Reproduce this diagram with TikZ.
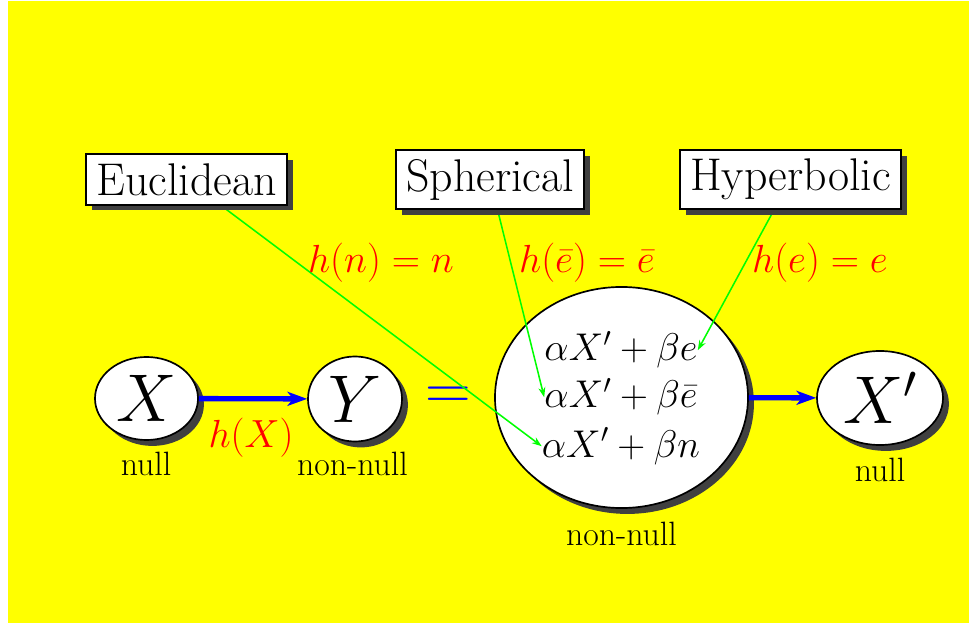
\RequirePackage{fix-cm}
\documentclass[tikz,border=0pt]{standalone}
\usetikzlibrary{shapes.geometric,shadows,arrows.meta}
\definecolor{sheet}{RGB}{255,255,0}
\definecolor{link}{RGB}{0,255,0}

\begin{document}
\begin{tikzpicture}[x=0.025cm,y=-0.025cm,
	shadowed/.style={drop shadow={fill=black!75,opacity=1,shadow xshift=4.2pt,shadow yshift=-4.2pt}},
	oval/.style={ellipse,draw,fill=white,line width=1.2pt,inner sep=0pt,shadowed},
	geobox/.style={rectangle,draw,fill=white,line width=1.3pt,inner xsep=7.1pt,inner ysep=6.4pt,shadowed,font=\fontsize{32.6}{39}\selectfont},
	bigmath/.style={font=\fontsize{48}{58}\selectfont},
	termline/.style={anchor=base,inner sep=0pt,font=\fontsize{27.5}{33}\selectfont},
	maplabel/.style={red,anchor=base,inner sep=0pt,font=\fontsize{27.9}{33}\selectfont},
	tagline/.style={anchor=base,inner sep=0pt,font=\fontsize{24}{29}\selectfont},
	flowarrow/.style={blue,line width=3.8pt,-{Stealth[length=14pt,width=10pt,inset=4pt]}},
	hintarrow/.style={link,line width=1.1pt,-{Stealth[length=7pt,width=5pt]}}]
				\fill[sheet] (7.5,1) rectangle (969,623);
				\useasboundingbox (0,0) rectangle (969,623);
				\node[oval,minimum width=2.575cm,minimum height=2.075cm,bigmath] (X) at (146.5,398.5) {$X$};
				\node[oval,minimum width=2.35cm,minimum height=2.125cm,bigmath] (Y) at (355,399) {$Y$};
				\node[oval,minimum width=6.325cm,minimum height=5.525cm] (W) at (621.5,397.5) {};
				\node[oval,minimum width=3.15cm,minimum height=2.35cm,bigmath] (Xp) at (880,398) {$X'$};
				\node[termline] (le) at (621,361) {$\alpha X'+\beta e$};
				\node[termline] (lebar) at (621,408) {$\alpha X'+\beta\bar{e}$};
				\node[termline] (ln) at (621,457) {$\alpha X'+\beta n$};
				\draw[flowarrow] (X) -- (Y);
				\draw[flowarrow] (W) -- (Xp);
				\node[text=blue,anchor=base,inner sep=0pt,font=\fontsize{45}{54}\selectfont] (eq) at (448,409) {$=$};
				\node[maplabel] (hX) at (251,447) {$h(X)$};
				\node[tagline] (nX) at (146,475) {null};
				\node[tagline] (nY) at (352.5,475) {non-null};
				\node[tagline] (nW) at (621.5,545) {non-null};
				\node[tagline] (nXp) at (880,481.5) {null};
				\coordinate (euc) at (186.5,179.5);
				\coordinate (sph) at (490,179.5);
				\coordinate (hyp) at (790.5,179.5);
				\draw[hintarrow] (euc) -- (ln.west);
				\draw[hintarrow] (sph) -- (lebar.west);
				\draw[hintarrow] (hyp) -- (le.east);
				\node[geobox] (eu) at (euc) {Euclidean};
				\node[geobox] (sp) at (sph) {Spherical};
				\node[geobox] (hy) at (hyp) {Hyperbolic};
				\node[maplabel] (hn) at (381,273) {$h(n)=n$};
				\node[maplabel] (he) at (587,273) {$h(\bar{e})=\bar{e}$};
				\node[maplabel] (hee) at (820,273) {$h(e)=e$};
			\end{tikzpicture}
\end{document}
